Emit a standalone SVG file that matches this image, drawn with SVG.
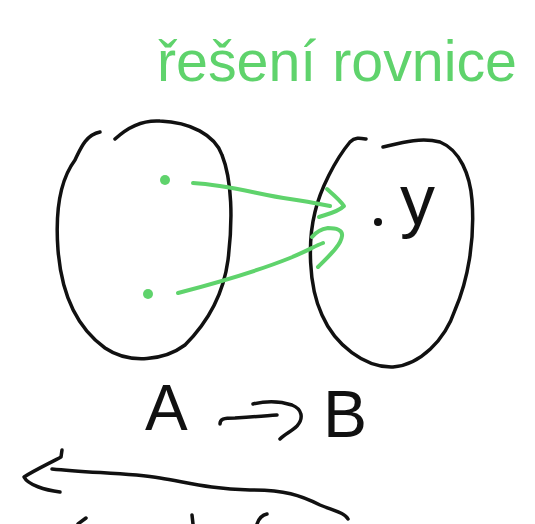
<svg xmlns="http://www.w3.org/2000/svg" width="535" height="524" viewBox="0 0 535 524">
<style>
.ink{fill:none;stroke:#111;stroke-width:3.5;stroke-linecap:round;stroke-linejoin:round}
.grn{fill:none;stroke:#5fd36c;stroke-width:4;stroke-linecap:round;stroke-linejoin:round}
.gdot{fill:#5fd36c}
.hand{font-family:"Liberation Sans","DejaVu Sans",sans-serif}
</style>
<rect width="535" height="524" fill="#fff"/>
<g id="title">
<text class="hand" x="157" y="81" font-size="57" fill="#5fd36c" textLength="360" lengthAdjust="spacingAndGlyphs">řešení rovnice</text>
</g>
<g id="setA">
<path class="ink" d="M115,139 C130,125 145,120 160,121 C190,122 215,135 222,155 C232,180 233,220 228,260 C224,290 210,320 185,345 C165,360 130,365 105,348 C80,330 62,300 58,250 C55,210 60,180 75,160 C80,150 85,135 100,132"/>
<circle class="gdot" cx="165" cy="180" r="5"/>
<circle class="gdot" cx="148" cy="294" r="5"/>
</g>
<g id="setB">
<path class="ink" d="M383,147 C400,143 420,137 440,142 C460,150 470,175 472,200 C475,240 468,280 455,310 C445,340 420,365 393,367 C365,368 335,345 322,315 C308,285 308,240 315,212 C320,190 335,160 350,142 C355,137 360,138 366,139"/>
<circle cx="378" cy="222" r="4" fill="#111"/>
<text class="hand" x="400" y="224" font-size="70" fill="#111">y</text>
</g>
<g id="connectors">
<path class="grn" d="M193,183 C230,185 260,195 290,199 C305,201 320,204 330,206"/>
<path class="grn" d="M327,189 C335,196 340,200 344,206 C338,212 328,214 319,217"/>
<path class="grn" d="M178,293 C220,282 260,270 290,258 C305,252 315,246 323,243"/>
<path class="grn" d="M312,237 C316,232 322,229 328,228 C336,228 343,230 342,236 C341,245 330,255 318,267"/>
</g>
<g id="mapping">
<text class="hand" x="145" y="430" font-size="64" fill="#111">A</text>
<path class="ink" d="M220,424 C220,419 223,418 235,418 C250,417 265,416 277,415"/>
<path class="ink" d="M253,404 C265,401 280,401 292,405 C302,409 304,418 297,426 C292,431 285,434 280,439"/>
<text class="hand" x="323" y="437" font-size="66" fill="#111">B</text>
</g>
<g id="bigArrow">
<path class="ink" d="M52,469 C90,473 130,473 160,478 C190,483 210,489 250,490 C285,490 300,495 320,505 C335,511 345,513 348,519"/>
<path class="ink" d="M62,450 L61,457 C50,463 35,470 24,477 C28,485 45,490 60,492"/>
</g>
<g id="fragments">
<path class="ink" d="M78,524 L86,518"/>
<path class="ink" d="M192,515 L193,524"/>
<path class="ink" d="M257,524 C259,518 262,515 267,514"/>
</g>
</svg>
